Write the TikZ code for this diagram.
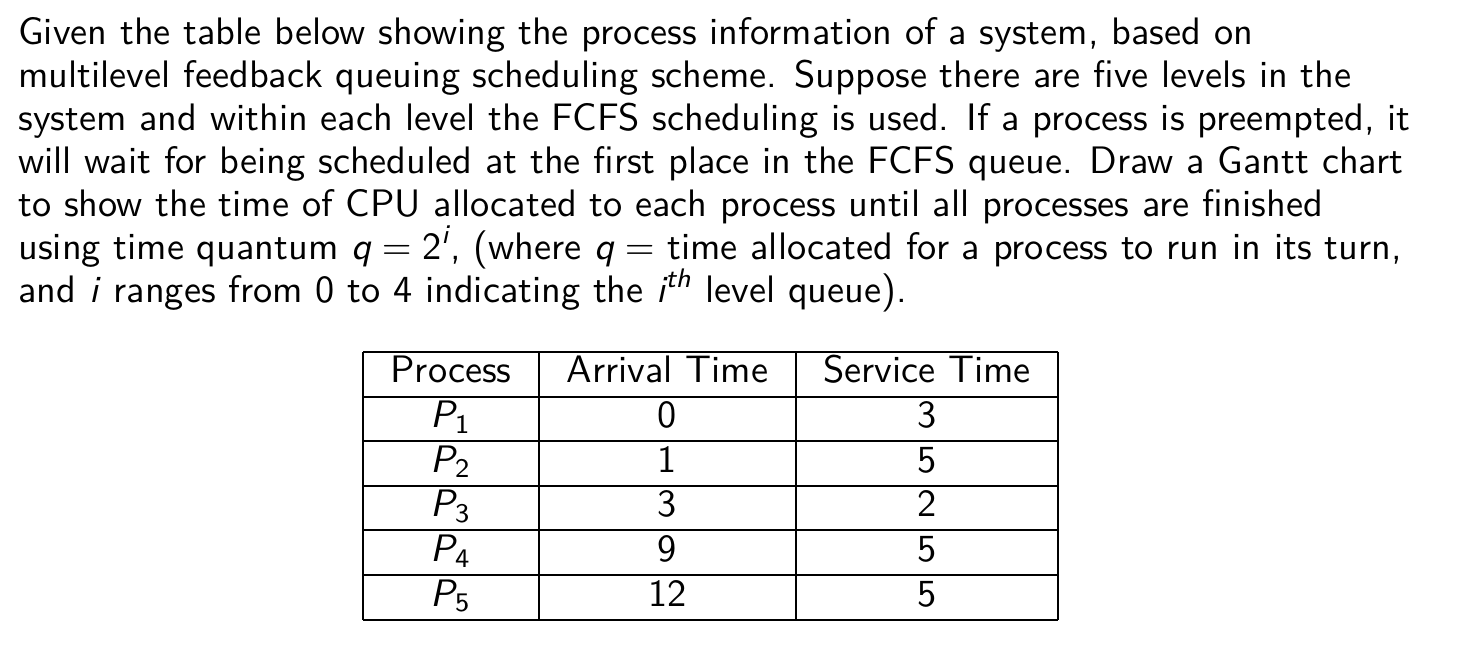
\documentclass[tikz,border=0pt]{standalone}
\usepackage{amsmath}
\usepackage{graphicx}
\renewcommand{\familydefault}{\sfdefault}
\newcommand{\mi}[1]{\textit{#1}}
\newcommand{\Pn}[1]{$\textit{P}_{\textup{#1}}$}
\newcommand{\bigtxt}[1]{\scalebox{1.915}{\fontsize{10}{12}\selectfont #1}}
\begin{document}
\begin{tikzpicture}[x=0.5pt,y=-0.5pt,
  txt/.style={anchor=base west,inner sep=0pt},
  cell/.style={anchor=base,inner sep=0pt},
  rule/.style={line width=1pt,black}]
\useasboundingbox (0,0) rectangle (1458,652);
\node[txt] (l1) at (18,45) {\bigtxt{Given the table below showing the process information of a system, based on}};
\node[txt] (l2) at (18,88) {\bigtxt{multilevel feedback queuing scheduling scheme. Suppose there are five levels in the}};
\node[txt] (l3) at (18,131) {\bigtxt{system and within each level the FCFS scheduling is used. If a process is preempted, it}};
\node[txt] (l4) at (18,174) {\bigtxt{will wait for being scheduled at the first place in the FCFS queue. Draw a Gantt chart}};
\node[txt] (l5) at (18,217) {\bigtxt{to show the time of CPU allocated to each process until all processes are finished}};
\node[txt] (l6) at (18,260) {\bigtxt{using time quantum $\textit{q} = \textup{2}^{\textit{i}}$, (where $\textit{q} =$ time allocated for a process to run in its turn,}};
\node[txt] (l7) at (18,303) {\bigtxt{and \mi{i} ranges from 0 to 4 indicating the $\textit{i}^{\textit{th}}$ level queue).}};
% table grid
\foreach \y in {352,397,441,486,530,575,620} \draw[rule] (363,\y) -- (1058,\y);
\foreach \x in {363,539,796,1058} \draw[rule] (\x,352) -- (\x,620);
% header
\node[cell] (h1) at (451,383) {\bigtxt{Process}};
\node[cell] (h2) at (667.5,383) {\bigtxt{Arrival Time}};
\node[cell] (h3) at (927,383) {\bigtxt{Service Time}};
% rows
\foreach \n/\a/\s [count=\i] in {1/0/3,2/1/5,3/3/2,4/9/5,5/12/5}{
  \pgfmathsetmacro{\yb}{383+44.6*\i}
  \node[cell] (p\i) at (451,\yb) {\bigtxt{\Pn{\n}}};
  \node[cell] (a\i) at (667.5,\yb) {\bigtxt{\a}};
  \node[cell] (s\i) at (927,\yb) {\bigtxt{\s}};
}
\end{tikzpicture}
\end{document}
